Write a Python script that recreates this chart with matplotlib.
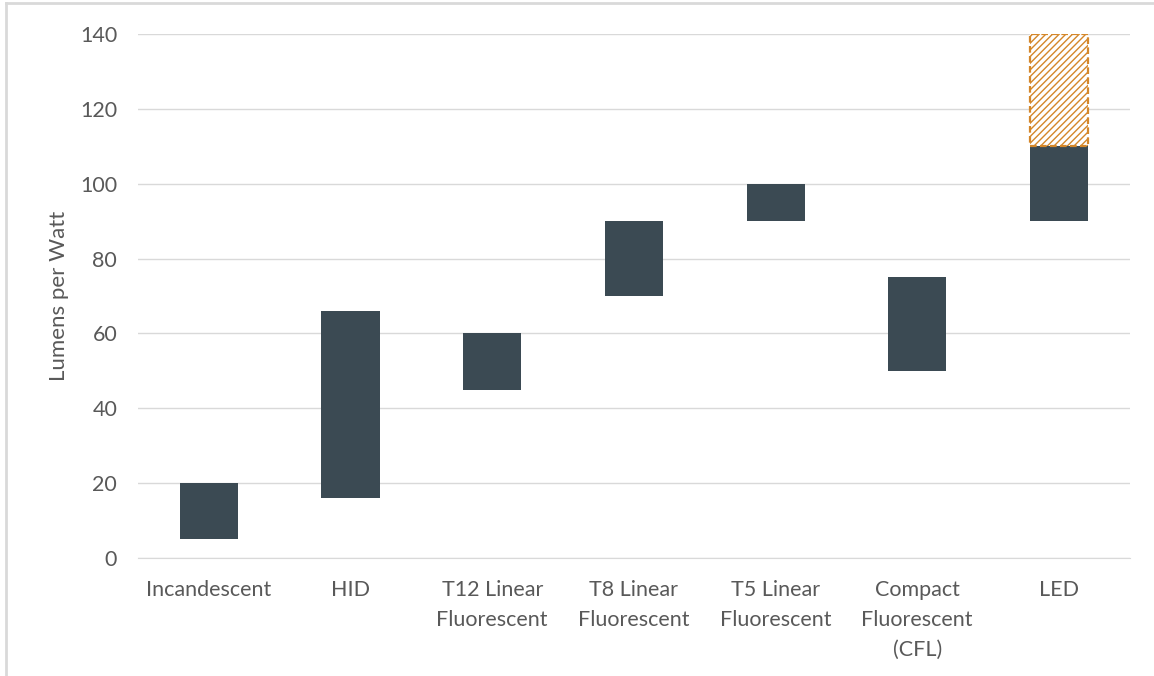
import matplotlib.pyplot as plt
import numpy as np
from matplotlib.lines import Line2D

# lumens per watt ranges (low, high) by lamp type
categories = ['Incandescent', 'HID', 'T12 Linear\nFluorescent', 'T8 Linear\nFluorescent',
              'T5 Linear\nFluorescent', 'Compact\nFluorescent\n(CFL)', 'LED']
low = [5, 16, 45, 70, 90, 50, 90]
high = [20, 66, 60, 90, 100, 75, 110]
# projected LED range on top of the current one
led_future_low = 110
led_future_high = 140
yticks = [0, 20, 40, 60, 80, 100, 120, 140]

plt.rcParams['font.family'] = ['Lato', 'DejaVu Sans']
plt.rcParams['hatch.color'] = '#E0A050'
plt.rcParams['hatch.linewidth'] = 1.0

text_col = '#595959'
bar_col = '#3B4A53'

fig = plt.figure(figsize=(11.54, 6.76), dpi=100)
ax = fig.add_axes([0.1196, 0.1746, 0.8594, 0.7751])

x = np.arange(len(categories))
heights = np.array(high) - np.array(low)
ax.bar(x, heights, bottom=low, width=0.41, color=bar_col, zorder=3)

# hatched projection for LED
ax.bar(x[-1], led_future_high - led_future_low, bottom=led_future_low, width=0.41,
       facecolor='white', edgecolor='#D4872A', hatch='/////', linestyle=(0, (3, 1.5)),
       linewidth=1.6, zorder=3)

ax.set_ylim(0, 140)
ax.set_xlim(-0.5, len(categories) - 0.5)
ax.set_yticks(yticks)
ax.set_xticks(x)
ax.set_xticklabels(categories, linespacing=1.62)
ax.yaxis.grid(True, color='#D9D9D9', linewidth=1)
ax.set_axisbelow(True)
for s in ['top', 'right', 'left']:
    ax.spines[s].set_visible(False)
ax.spines['bottom'].set_color('#D9D9D9')
ax.tick_params(axis='both', length=0, labelsize=15.5, colors=text_col)
ax.tick_params(axis='x', pad=16)
ax.tick_params(axis='y', pad=15)
ax.set_ylabel('Lumens per Watt', fontsize=16, color=text_col, labelpad=8)

# thin frame on left and top edge of the picture
fig.add_artist(Line2D([0.0055, 0.0055], [0, 0.995], transform=fig.transFigure, color='#D9D9D9', linewidth=2))
fig.add_artist(Line2D([0.0055, 1], [0.995, 0.995], transform=fig.transFigure, color='#D9D9D9', linewidth=2))

fig.savefig('out.png', dpi=100)
